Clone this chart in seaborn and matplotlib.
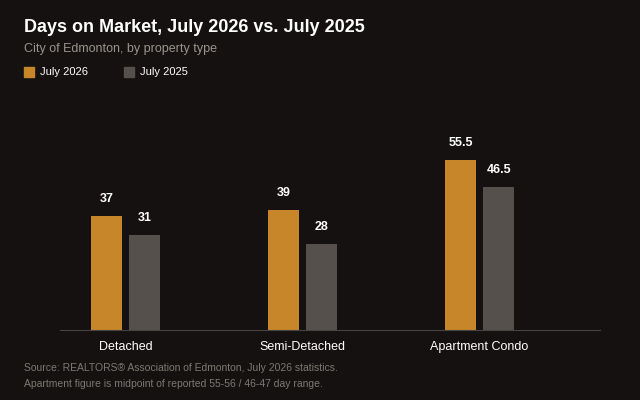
import matplotlib
matplotlib.use("Agg")
import matplotlib.pyplot as plt
import seaborn as sns
import pandas as pd
from matplotlib.patches import Rectangle

categories = ["Detached", "Semi-Detached", "Apartment Condo"]
series = ["July 2026", "July 2025"]
jul2026 = [37, 39, 55.5]
jul2025 = [31, 28, 46.5]
labels2026 = ["37", "39", "55.5"]
labels2025 = ["31", "28", "46.5"]

df = pd.DataFrame({
    "cat": categories * 2,
    "series": [series[0]] * 3 + [series[1]] * 3,
    "val": jul2026 + jul2025,
})

bg = "#141110"
colors = ["#C8862A", "#55504C"]
sns.set_style("dark")
plt.rcParams["font.family"] = ["Liberation Sans", "DejaVu Sans"]

fig = plt.figure(figsize=(6.4, 4.0), dpi=100, facecolor=bg)
ax = fig.add_axes([60/640, 70/400, 540/640, 270/400])
ax.set_facecolor(bg)
sns.barplot(data=df, x="cat", y="val", hue="series", order=categories,
            hue_order=series, palette=colors, width=0.43, gap=0.2,
            legend=False, ax=ax, saturation=1, linewidth=0, edgecolor="none")
for c, labs in zip(ax.containers, [labels2026, labels2025]):
    ax.bar_label(c, labels=labs, padding=8, color="white", fontsize=9, fontweight="bold")
ax.set_xlim(-0.37, 2.68)
ax.set_ylim(0, 88)
ax.set_yticks([])
ax.set_xlabel("")
ax.set_ylabel("")
ax.tick_params(axis="x", colors="white", labelsize=9, length=0, pad=8)
for s in ["top", "right", "left"]:
    ax.spines[s].set_visible(False)
ax.spines["bottom"].set_color("#444")
ax.grid(False)

fig.text(24/640, 1 - 28/400, "Days on Market, July 2026 vs. July 2025", color="white",
         fontsize=13, fontweight="bold", va="center")
fig.text(24/640, 1 - 49/400, "City of Edmonton, by property type", color="#9a948e",
         fontsize=9, va="center")
for i, (s, col) in enumerate(zip(series, colors)):
    x0 = 24 + i * 100
    fig.patches.append(Rectangle((x0/640, 1 - 77/400), 10/640, 10/400, color=col,
                                 transform=fig.transFigure))
    fig.text((x0 + 16)/640, 1 - 72/400, s, color="white", fontsize=8, va="center")
fig.text(24/640, 1 - 368/400, "Source: REALTORS® Association of Edmonton, July 2026 statistics.",
         color="#7d7873", fontsize=7.5, va="center")
fig.text(24/640, 1 - 384/400, "Apartment figure is midpoint of reported 55-56 / 46-47 day range.",
         color="#7d7873", fontsize=7.5, va="center")
fig.savefig("out.png", dpi=100, facecolor=bg)
